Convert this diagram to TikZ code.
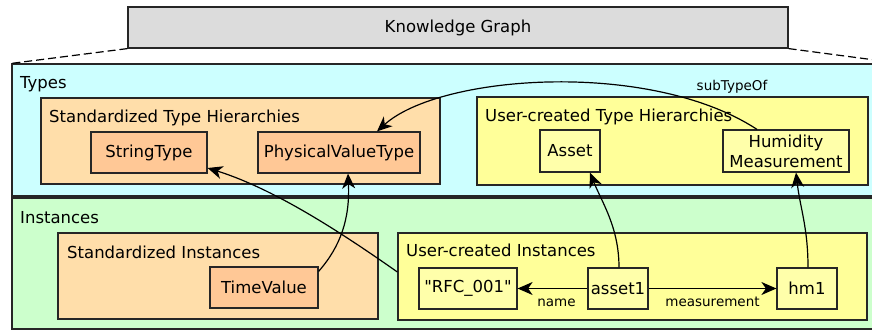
\documentclass[tikz,border=0pt]{standalone}
\usepackage{fontspec}
\setmainfont{DejaVu Sans}
\usepackage{tikz}
\usetikzlibrary{arrows.meta}
\usetikzlibrary{positioning}
\definecolor{kggray}{HTML}{DCDCDC}
\definecolor{typecyan}{HTML}{CCFFFF}
\definecolor{instgreen}{HTML}{CCFFCC}
\definecolor{stdorange}{HTML}{FFDEAA}
\definecolor{stdnode}{HTML}{FFC896}
\definecolor{usryellow}{HTML}{FFFF99}
\definecolor{usrnode}{HTML}{FFFFAA}
\tikzset{
    areabox/.style={
        draw=black!85,
        line width=1.2pt,
        inner sep=0pt
    },
    itembox/.style={
        draw=black!85,
        line width=1.2pt,
        inner sep=0pt,
        minimum height=41pt,
        align=center,
        font=\fontsize{16.5pt}{20pt}\selectfont
    },
    arealbl/.style={
        anchor=base west,
        inner sep=0pt,
        font=\fontsize{16.5pt}{20pt}\selectfont
    },
    edgelbl/.style={
        anchor=base,
        inner sep=0pt,
        font=\fontsize{13.5pt}{16pt}\selectfont
    },
    link/.style={
        -{Stealth[length=15pt, width=13pt, inset=4.5pt]},
        line width=1.2pt
    }
}

\begin{document}
\begin{tikzpicture}[x=1pt, y=-1pt]
  \useasboundingbox (0,0) rectangle (872,331);

  % Knowledge graph and its two layers
  \node[areabox, fill=kggray, minimum width=660pt, minimum height=41pt,
        font=\fontsize{16.5pt}{20pt}\selectfont] (kg) at (458,27.5) {Knowledge Graph};
  \node[areabox, fill=typecyan, minimum width=888pt, minimum height=132pt] (types) at (456,130) {};
  \node[areabox, fill=instgreen, minimum width=888pt, minimum height=131pt] (inst) at (456,263.5) {};
  \draw[dash pattern=on 8pt off 4pt, line width=1.2pt] (kg.south west) -- (types.north west);
  \draw[dash pattern=on 8pt off 4pt, line width=1.2pt] (kg.south east) -- (types.north east);

  % Hierarchies
  \node[areabox, fill=stdorange, minimum width=399pt, minimum height=86pt] (sth) at (240.5,141) {};
  \node[areabox, fill=usryellow, minimum width=391pt, minimum height=88pt] (uth) at (672.5,141) {};
  \node[areabox, fill=stdorange, minimum width=320pt, minimum height=86pt] (sin) at (218,276) {};
  \node[areabox, fill=usryellow, minimum width=469pt, minimum height=87pt] (uin) at (632.5,276.5) {};

  % Titles of the areas
  \foreach \i/\x/\y/\t in {1/20/89/Types, 2/20/223/Instances,
      3/49/123/Standardized Type Hierarchies, 4/485/122/User-created Type Hierarchies,
      5/67/258/Standardized Instances, 6/406/256/User-created Instances} {
    \node[arealbl] (t\i) at (\x,\y) {\t};
  }

  % Types
  \node[itembox, fill=stdnode, minimum width=116pt] (strT) at (149,152.5) {StringType};
  \node[itembox, fill=stdnode, minimum width=162pt] (pvT) at (339,152.5) {PhysicalValueType};
  \node[itembox, fill=usrnode, minimum width=60pt, minimum height=42pt] (asset) at (570,151) {Asset};
  \node[itembox, fill=usrnode, minimum width=126pt, minimum height=42pt] (hum) at (786,151) {Humidity\\Measurement};

  % Instances
  \node[itembox, fill=stdnode, minimum width=108pt] (tv) at (264,287.5) {TimeValue};
  \node[itembox, fill=usrnode, minimum width=98pt] (rfc) at (468,288.5) {\textquotedbl RFC\_001\textquotedbl};
  \node[itembox, fill=usrnode, minimum width=60pt] (asset1) at (618,288.5) {asset1};
  \node[itembox, fill=usrnode, minimum width=60pt] (hm1) at (807,288.5) {hm1};

  % Connect edges
  \draw[link] (asset1) -- node[edgelbl, xshift=4pt, yshift=-17.5pt] (namelbl) {name} (rfc);
  \draw[link] (asset1) -- node[edgelbl, yshift=-17.5pt] (measlbl) {measurement} (hm1);
  \draw[link] ([xshift=1pt]asset1.north) .. controls +(0,-40) and +(12,30) .. ([xshift=20pt]asset.south);
  \draw[link] ([xshift=1pt]hm1.north) .. controls +(0,-40) and +(4,35) .. ([xshift=10pt]hum.south);
  \draw[link] ([yshift=-5pt]tv.north east) .. controls +(22,-25) and +(2,45) .. ([xshift=9pt]pvT.south);
  \coordinate (uinref) at ([yshift=4.5pt]uin.west);
  \draw[link] (uinref) .. controls +(-50,-35) and +(70,22) .. ([yshift=-15.5pt]strT.east);
  \draw[link] ([xshift=-29pt]hum.north) .. controls +(-107,-70) and +(63,-57) .. ([xshift=38pt]pvT.north);
  \node[edgelbl] (sublbl) at (732,91) {subTypeOf};
\end{tikzpicture}
\end{document}
